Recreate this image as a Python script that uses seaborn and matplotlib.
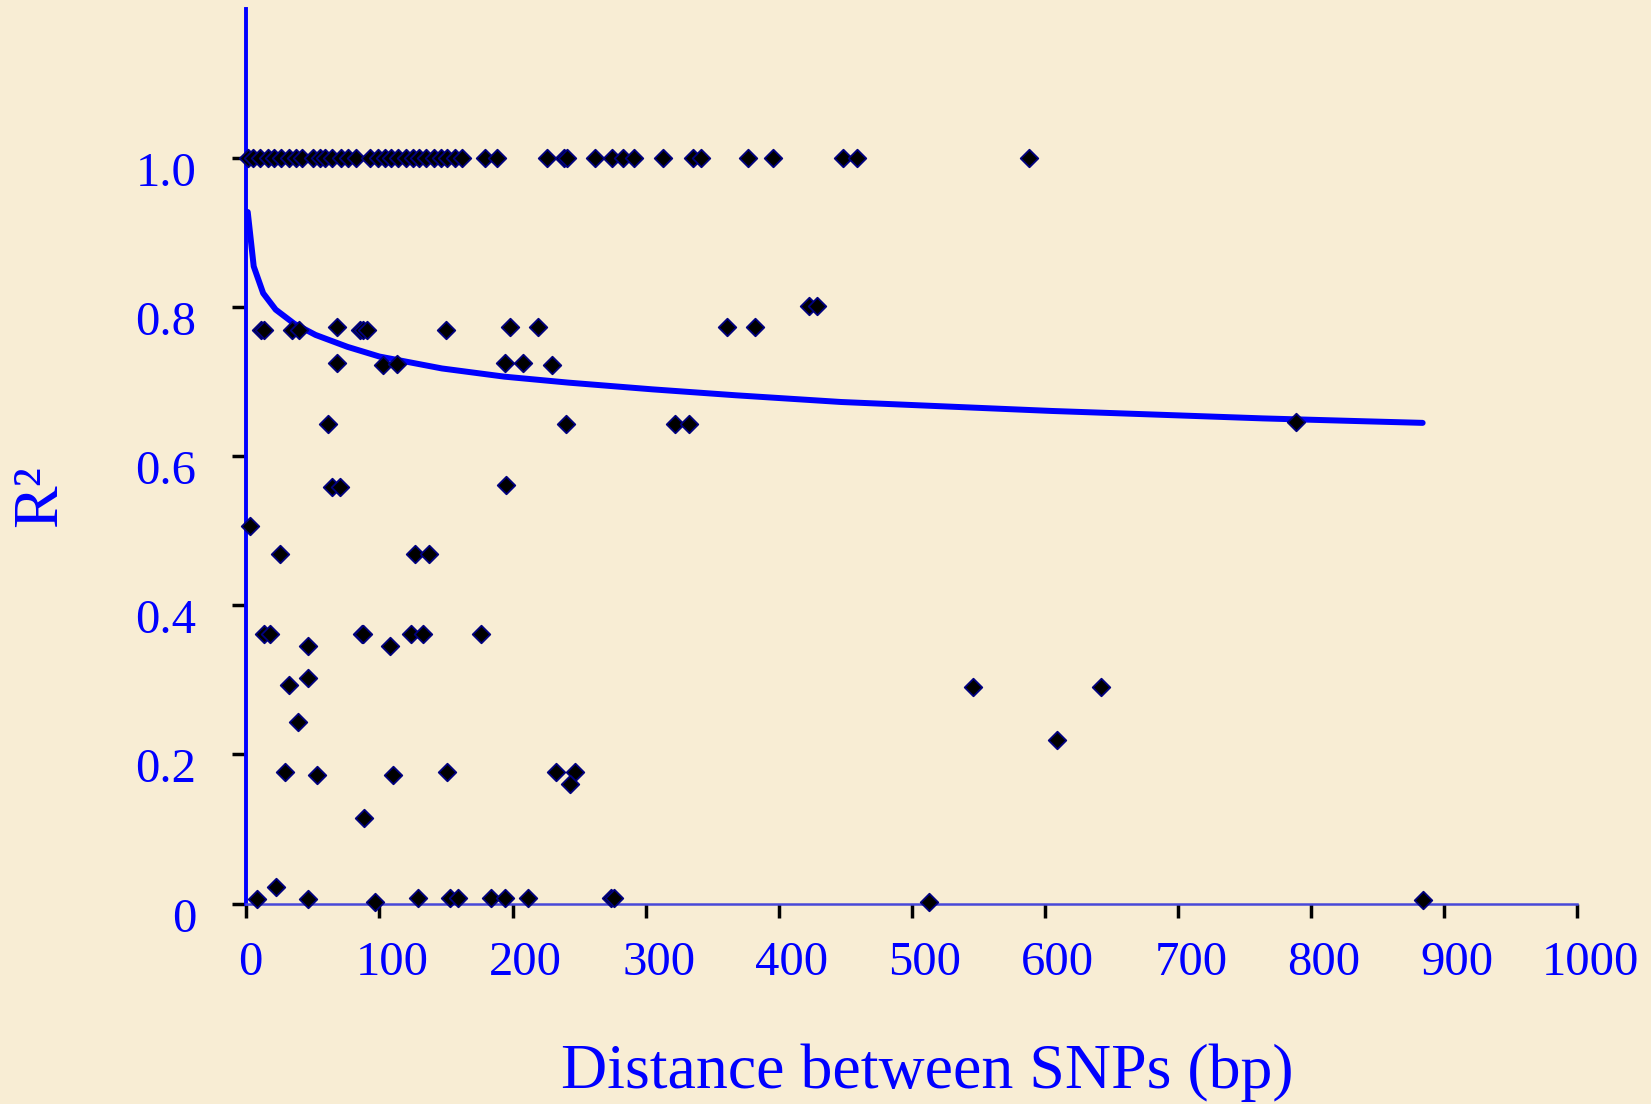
import matplotlib
matplotlib.use('Agg')
import matplotlib.pyplot as plt
import matplotlib.transforms as mtransforms
import seaborn as sns

# --- Data ---
# SNP pairs with R^2 = 1.0 (top row)
dist_full = [1, 5, 10, 16, 21, 26, 32, 37, 42, 50, 55, 59, 64, 71, 76, 82,
             93, 99, 104, 109, 114, 120, 125, 130, 135, 141, 146, 151, 157,
             162, 179, 188, 226, 239, 241, 262, 275, 283, 291, 313, 336, 342,
             377, 396, 448, 459, 588]
r2_full = [1.0] * len(dist_full)

# remaining SNP pairs
dist_other = [10.6, 13.5, 34.5, 39.4, 68, 85, 88, 91, 150, 198, 219, 361, 382,
              68, 103, 113, 194, 208, 230,
              61, 240, 322, 333, 789,
              423, 429,
              64, 70, 195,
              3,
              25, 127, 137,
              13.5, 18, 87, 88, 124, 133, 176,
              46.5, 108,
              46.5,
              32, 546, 642,
              39,
              609,
              29, 151, 233, 247,
              53, 110,
              243,
              88.5,
              22,
              8, 46, 97, 129, 153, 159, 184, 194, 212, 274, 276, 513, 884]
r2_other = [0.770, 0.770, 0.770, 0.770, 0.773, 0.770, 0.770, 0.770, 0.770,
            0.773, 0.773, 0.773, 0.773,
            0.725, 0.722, 0.724, 0.725, 0.725, 0.722,
            0.644, 0.644, 0.644, 0.644, 0.646,
            0.802, 0.802,
            0.559, 0.559, 0.561,
            0.507,
            0.469, 0.469, 0.469,
            0.362, 0.362, 0.362, 0.362, 0.362, 0.362, 0.362,
            0.346, 0.346,
            0.303,
            0.293, 0.291, 0.291,
            0.244,
            0.219,
            0.177, 0.177, 0.177, 0.177,
            0.172, 0.172,
            0.161,
            0.115,
            0.022,
            0.006, 0.006, 0.002, 0.008, 0.008, 0.008, 0.008, 0.008, 0.008,
            0.008, 0.008, 0.002, 0.005]

distance = dist_full + dist_other
r2 = r2_full + r2_other

# logarithmic trend line
trend_x = [1, 5.5, 12.6, 22, 36, 52, 76, 100, 147, 194, 242, 305, 368, 447,
           526, 605, 685, 764, 843, 884]
trend_y = [0.928, 0.855, 0.819, 0.797, 0.778, 0.763, 0.747, 0.734, 0.718,
           0.707, 0.699, 0.690, 0.682, 0.673, 0.667, 0.661, 0.656, 0.651,
           0.647, 0.645]

x_ticks = list(range(0, 1001, 100))
y_ticks = [0, 0.2, 0.4, 0.6, 0.8, 1.0]
y_tick_labels = ['0', '0.2', '0.4', '0.6', '0.8', '1.0']

bg = '#f8edd4'
blue = '#0000ff'

sns.set_style('ticks')
plt.rcParams['font.family'] = ['Liberation Serif', 'DejaVu Serif']

fig = plt.figure(figsize=(16.51, 11.04), dpi=100, facecolor=bg)
ax = fig.add_axes([246.4 / 1651, 1 - 903.5 / 1104, 1330.6 / 1651, 894.2 / 1104])
ax.set_facecolor(bg)

sns.lineplot(x=trend_x, y=trend_y, color=blue, linewidth=4.3, ax=ax,
             errorbar=None, zorder=2)
sns.scatterplot(x=distance, y=r2, marker='D', s=80, color='black',
                edgecolor='#000080', linewidth=1.3, ax=ax, zorder=3,
                clip_on=False)

ax.set_xlim(0, 1000)
ax.set_ylim(0, 1.2)
ax.set_xticks(x_ticks)
ax.set_xticklabels([str(t) for t in x_ticks])
ax.set_yticks(y_ticks)
ax.set_yticklabels(y_tick_labels)

for side in ['top', 'right']:
    ax.spines[side].set_visible(False)
ax.spines['left'].set_color(blue)
ax.spines['left'].set_linewidth(2.8)
ax.spines['bottom'].set_color('#4848d8')
ax.spines['bottom'].set_linewidth(1.8)
ax.spines['left'].set_zorder(1)

ax.tick_params(axis='both', direction='out', length=10, width=2.5,
               color='black', labelsize=35, labelcolor=blue)
ax.tick_params(axis='y', pad=26)
ax.tick_params(axis='x', pad=17)

# Excel-style label offsets
for lab in ax.get_xticklabels():
    shift = 4 if lab.get_text() == '0' else 13
    dx = mtransforms.ScaledTranslation(shift / 100, 0, fig.dpi_scale_trans)
    lab.set_transform(lab.get_transform() + dx)
dy = mtransforms.ScaledTranslation(0, -11 / 100, fig.dpi_scale_trans)
for lab in ax.get_yticklabels():
    lab.set_transform(lab.get_transform() + dy)

ax.set_xlabel('')
ax.set_ylabel('')
fig.text(927 / 1651, (1104 - 1088) / 1104, 'Distance between SNPs (bp)',
         ha='center', va='baseline', fontsize=46, color=blue)
fig.text(41 / 1651, 1 - 496 / 1104, 'R²', rotation=90, ha='center',
         va='center', fontsize=46, color=blue)

fig.savefig('out.png', dpi=100, facecolor=bg)
